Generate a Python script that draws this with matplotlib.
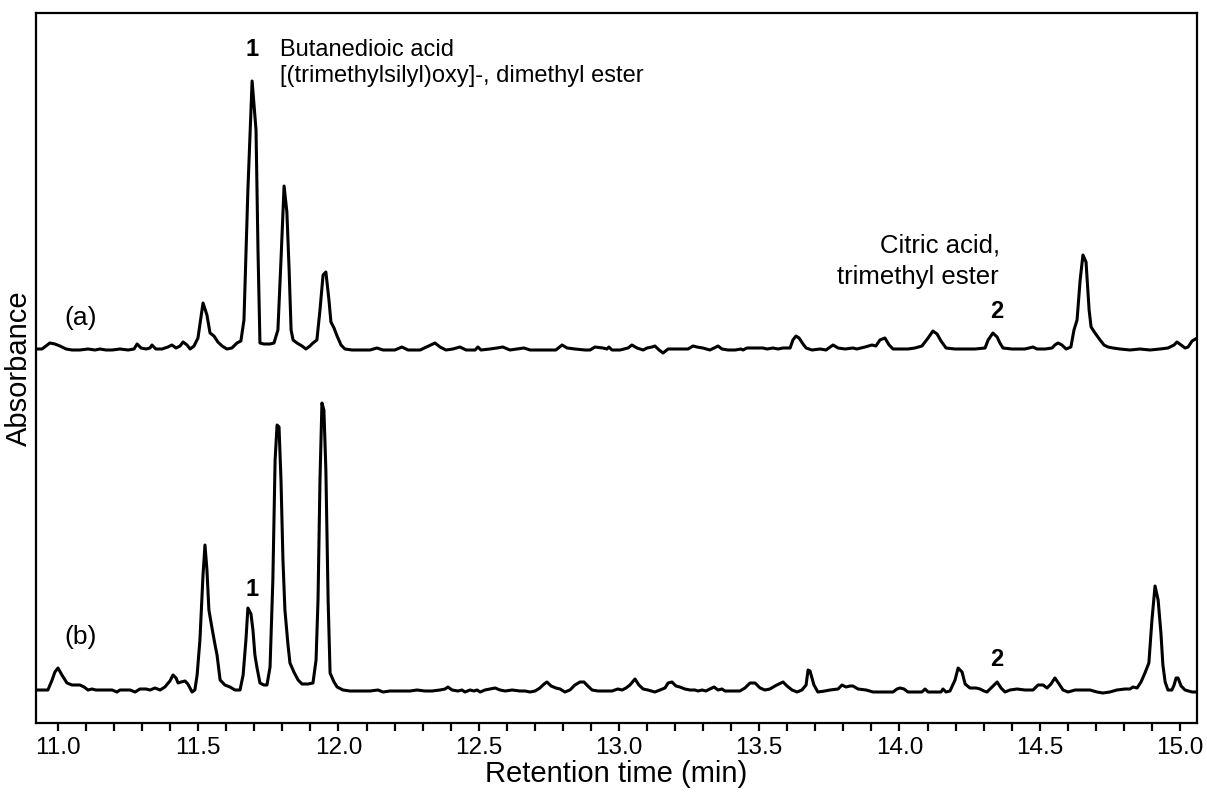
import numpy as np
import matplotlib
matplotlib.use("Agg")
import matplotlib.pyplot as plt
from matplotlib.ticker import MultipleLocator

plt.rcParams['font.family'] = ['Liberation Sans', 'DejaVu Sans']

# Chromatogram (a): retention time (min) and signal above its own baseline
time_a = [10.922, 10.943, 10.957, 10.971, 10.989, 11.007, 11.029, 11.050, 11.078, 11.107,
          11.132, 11.150, 11.171, 11.193, 11.221, 11.250, 11.271, 11.282, 11.296, 11.314,
          11.328, 11.335, 11.349, 11.371, 11.392, 11.406, 11.421, 11.435, 11.446, 11.460,
          11.471, 11.485, 11.499, 11.517, 11.531, 11.542, 11.556, 11.570, 11.585, 11.602,
          11.620, 11.638, 11.652, 11.663, 11.677, 11.692, 11.706, 11.713, 11.720, 11.734,
          11.756, 11.770, 11.784, 11.795, 11.806, 11.816, 11.824, 11.831, 11.838, 11.852,
          11.870, 11.884, 11.898, 11.909, 11.923, 11.934, 11.945, 11.955, 11.966, 11.973,
          11.984, 11.995, 12.009, 12.023, 12.048, 12.077, 12.112, 12.137, 12.159, 12.201,
          12.226, 12.248, 12.291, 12.344, 12.362, 12.383, 12.408, 12.433, 12.455, 12.487,
          12.497, 12.508, 12.540, 12.565, 12.586, 12.611, 12.636, 12.661, 12.683, 12.736,
          12.775, 12.797, 12.815, 12.843, 12.879, 12.897, 12.914, 12.943, 12.957, 12.964,
          12.975, 13.004, 13.032, 13.046, 13.064, 13.086, 13.100, 13.118, 13.128, 13.143,
          13.157, 13.175, 13.217, 13.246, 13.264, 13.278, 13.299, 13.324, 13.339, 13.353,
          13.367, 13.389, 13.414, 13.435, 13.442, 13.456, 13.485, 13.513, 13.528, 13.549,
          13.567, 13.585, 13.610, 13.620, 13.631, 13.642, 13.656, 13.667, 13.688, 13.717,
          13.738, 13.763, 13.781, 13.806, 13.834, 13.848, 13.877, 13.902, 13.916, 13.930,
          13.948, 13.963, 13.977, 14.002, 14.030, 14.055, 14.080, 14.102, 14.119, 14.134,
          14.148, 14.166, 14.198, 14.234, 14.269, 14.305, 14.316, 14.333, 14.348, 14.358,
          14.369, 14.401, 14.447, 14.476, 14.490, 14.519, 14.544, 14.554, 14.565, 14.579,
          14.594, 14.611, 14.622, 14.633, 14.644, 14.654, 14.665, 14.676, 14.683, 14.697,
          14.715, 14.729, 14.743, 14.761, 14.786, 14.822, 14.857, 14.893, 14.929, 14.957,
          14.979, 14.989, 15.004, 15.018, 15.029, 15.043, 15.061]
signal_a = [1, 1, 4, 7, 6, 4, 1, 0, 0, 1,
            0, 1, 0, 0, 1, 0, 1, 6, 2, 1,
            2, 5, 1, 1, 3, 5, 2, 4, 8, 5,
            1, 4, 12, 47, 35, 17, 14, 8, 4, 1,
            2, 7, 9, 30, 160, 269, 220, 100, 7, 6,
            6, 7, 20, 90, 164, 138, 80, 20, 10, 7,
            4, 1, 4, 7, 10, 40, 75, 78, 50, 28,
            22, 14, 5, 1, 0, 0, 0, 2, 0, 0,
            3, 0, 0, 7, 3, 0, 1, 3, 0, 0,
            3, 0, 1, 2, 3, 0, 1, 2, 0, 0,
            0, 5, 2, 1, 0, 0, 3, 2, 1, 3,
            0, 0, 2, 5, 2, 0, 2, 3, 4, 0,
            -3, 1, 1, 1, 4, 3, 2, 0, 2, 4,
            1, 0, 0, 1, 0, 2, 2, 2, 1, 2,
            1, 2, 2, 10, 14, 12, 6, 2, 0, 1,
            0, 5, 2, 1, 2, 1, 3, 5, 4, 10,
            12, 5, 1, 1, 1, 2, 4, 12, 19, 16,
            9, 2, 1, 1, 1, 2, 10, 17, 13, 7,
            2, 1, 1, 3, 1, 1, 2, 5, 7, 5,
            1, 3, 20, 30, 70, 95, 88, 40, 23, 17,
            10, 5, 3, 2, 1, 0, 1, 0, 1, 2,
            5, 8, 5, 2, 3, 9, 12]

# Chromatogram (b)
time_b = [10.922, 10.943, 10.964, 10.979, 10.989, 11.000, 11.014, 11.032, 11.050, 11.078,
          11.093, 11.107, 11.121, 11.135, 11.168, 11.193, 11.210, 11.221, 11.257, 11.275,
          11.292, 11.314, 11.328, 11.346, 11.364, 11.381, 11.399, 11.410, 11.421, 11.428,
          11.439, 11.453, 11.463, 11.478, 11.488, 11.496, 11.506, 11.517, 11.524, 11.531,
          11.538, 11.549, 11.560, 11.567, 11.578, 11.595, 11.613, 11.631, 11.649, 11.660,
          11.670, 11.677, 11.688, 11.695, 11.702, 11.709, 11.720, 11.734, 11.745, 11.756,
          11.766, 11.774, 11.781, 11.788, 11.795, 11.802, 11.809, 11.820, 11.827, 11.841,
          11.856, 11.870, 11.891, 11.909, 11.920, 11.927, 11.934, 11.941, 11.948, 11.955,
          11.963, 11.970, 11.984, 11.995, 12.016, 12.041, 12.077, 12.112, 12.141, 12.159,
          12.184, 12.219, 12.255, 12.280, 12.308, 12.333, 12.362, 12.380, 12.390, 12.405,
          12.426, 12.440, 12.451, 12.469, 12.483, 12.494, 12.505, 12.522, 12.540, 12.558,
          12.576, 12.594, 12.619, 12.647, 12.665, 12.683, 12.701, 12.718, 12.733, 12.743,
          12.758, 12.775, 12.790, 12.807, 12.825, 12.843, 12.861, 12.875, 12.889, 12.904,
          12.925, 12.950, 12.975, 12.996, 13.011, 13.025, 13.039, 13.057, 13.071, 13.086,
          13.103, 13.128, 13.146, 13.164, 13.175, 13.189, 13.203, 13.217, 13.235, 13.253,
          13.271, 13.282, 13.296, 13.310, 13.324, 13.339, 13.353, 13.367, 13.378, 13.396,
          13.414, 13.431, 13.449, 13.467, 13.485, 13.503, 13.520, 13.538, 13.556, 13.570,
          13.585, 13.599, 13.617, 13.635, 13.652, 13.667, 13.674, 13.681, 13.695, 13.709,
          13.734, 13.752, 13.781, 13.795, 13.809, 13.824, 13.834, 13.852, 13.881, 13.906,
          13.948, 13.977, 13.991, 14.002, 14.016, 14.030, 14.059, 14.080, 14.091, 14.102,
          14.127, 14.148, 14.155, 14.166, 14.180, 14.198, 14.209, 14.223, 14.234, 14.251,
          14.273, 14.287, 14.301, 14.312, 14.330, 14.348, 14.362, 14.376, 14.394, 14.419,
          14.447, 14.476, 14.494, 14.512, 14.526, 14.540, 14.554, 14.569, 14.583, 14.601,
          14.626, 14.651, 14.679, 14.704, 14.725, 14.750, 14.775, 14.804, 14.822, 14.832,
          14.847, 14.861, 14.875, 14.889, 14.900, 14.911, 14.922, 14.932, 14.939, 14.947,
          14.957, 14.971, 14.979, 14.986, 14.993, 15.004, 15.018, 15.043, 15.061]
signal_b = [1, 1, 1, 11, 19, 23, 16, 8, 6, 6,
            4, 1, 2, 1, 1, 1, -1, 1, 1, -1,
            2, 2, 1, 3, 1, 4, 10, 16, 13, 8,
            9, 10, 7, -1, 1, 16, 51, 116, 146, 121,
            81, 63, 46, 36, 11, 6, 4, 1, 1, 16,
            51, 83, 77, 61, 36, 24, 8, 6, 6, 24,
            111, 231, 266, 264, 211, 131, 81, 46, 28, 19,
            11, 7, 7, 8, 31, 91, 211, 288, 281, 221,
            91, 18, 9, 4, 1, 0, 0, 0, 1, -1,
            0, 0, 0, 1, 0, 0, 1, 2, 4, 1,
            0, 1, -1, 1, 0, 1, -1, 1, 2, 3,
            1, 0, 1, 0, 0, -1, 0, 3, 7, 9,
            5, 3, 2, -1, 1, 6, 9, 9, 5, 1,
            0, 0, 0, 2, 1, 3, 6, 12, 6, 2,
            1, -1, 1, 3, 8, 9, 5, 4, 2, 1,
            1, 0, 1, 0, 2, 4, 1, 2, 0, 0,
            0, 0, 3, 8, 8, 3, 1, 2, 5, 7,
            9, 5, 1, -1, 1, 6, 21, 20, 6, -1,
            0, 1, 2, 6, 4, 5, 5, 2, 1, -1,
            -1, -1, 2, 3, 2, -1, -1, -1, 2, -1,
            -1, -1, 2, -1, 0, 11, 23, 19, 7, 3,
            3, 2, 0, -1, 4, 9, 3, -1, 1, 2,
            1, 1, 6, 6, 3, 7, 13, 7, 1, -1,
            1, 1, 1, -1, -2, -1, 1, 2, 2, 4,
            3, 9, 18, 28, 71, 105, 91, 58, 26, 9,
            1, 1, 6, 13, 13, 5, 1, -1, -1]

# vertical stacking of the two traces
offset_a = 373
offset_b = 32

fig = plt.figure(figsize=(12.07, 7.94), dpi=100)
ax = fig.add_axes([36 / 1207, 1 - 723 / 794, (1197 - 36) / 1207, (723 - 13) / 794])

ax.plot(time_a, np.asarray(signal_a) + offset_a, color='black', lw=2.2,
        solid_joinstyle='round')
ax.plot(time_b, np.asarray(signal_b) + offset_b, color='black', lw=2.2,
        solid_joinstyle='round')

ax.set_xlim(10.9216, 15.0606)
ax.set_ylim(0, 710)

for s in ax.spines.values():
    s.set_linewidth(1.6)

ax.xaxis.set_major_locator(MultipleLocator(0.5))
ax.xaxis.set_minor_locator(MultipleLocator(0.1))
ax.xaxis.set_major_formatter(plt.FormatStrFormatter('%.1f'))
ax.tick_params(axis='x', which='both', direction='out', length=6, width=1.6,
               labelsize=17.5, pad=4)
ax.tick_params(axis='y', which='both', left=False, labelleft=False)

ax.set_xlabel('Retention time (min)', fontsize=21, labelpad=1)
ax.set_ylabel('Absorbance', fontsize=21, labelpad=2)

# trace labels
ax.text(11.08, offset_a + 32, '(a)', fontsize=19, ha='center', va='center')
ax.text(11.08, offset_b + 54, '(b)', fontsize=19, ha='center', va='center')

# compound annotations
ax.text(11.692, 673, '1', fontsize=17, fontweight='bold', ha='center', va='center')
ax.text(11.79, 673, 'Butanedioic acid', fontsize=17, ha='left', va='center')
ax.text(11.79, 647, '[(trimethylsilyl)oxy]-, dimethyl ester', fontsize=17,
        ha='left', va='center')
ax.text(11.692, 134, '1', fontsize=17, fontweight='bold', ha='center', va='center')

ax.text(14.358, 478, 'Citric acid,', fontsize=18.5, ha='right', va='center')
ax.text(14.352, 446, 'trimethyl ester', fontsize=18.5, ha='right', va='center')
ax.text(14.348, 411, '2', fontsize=17, fontweight='bold', ha='center', va='center')
ax.text(14.348, 63, '2', fontsize=17, fontweight='bold', ha='center', va='center')

fig.savefig('out.png', dpi=100)
